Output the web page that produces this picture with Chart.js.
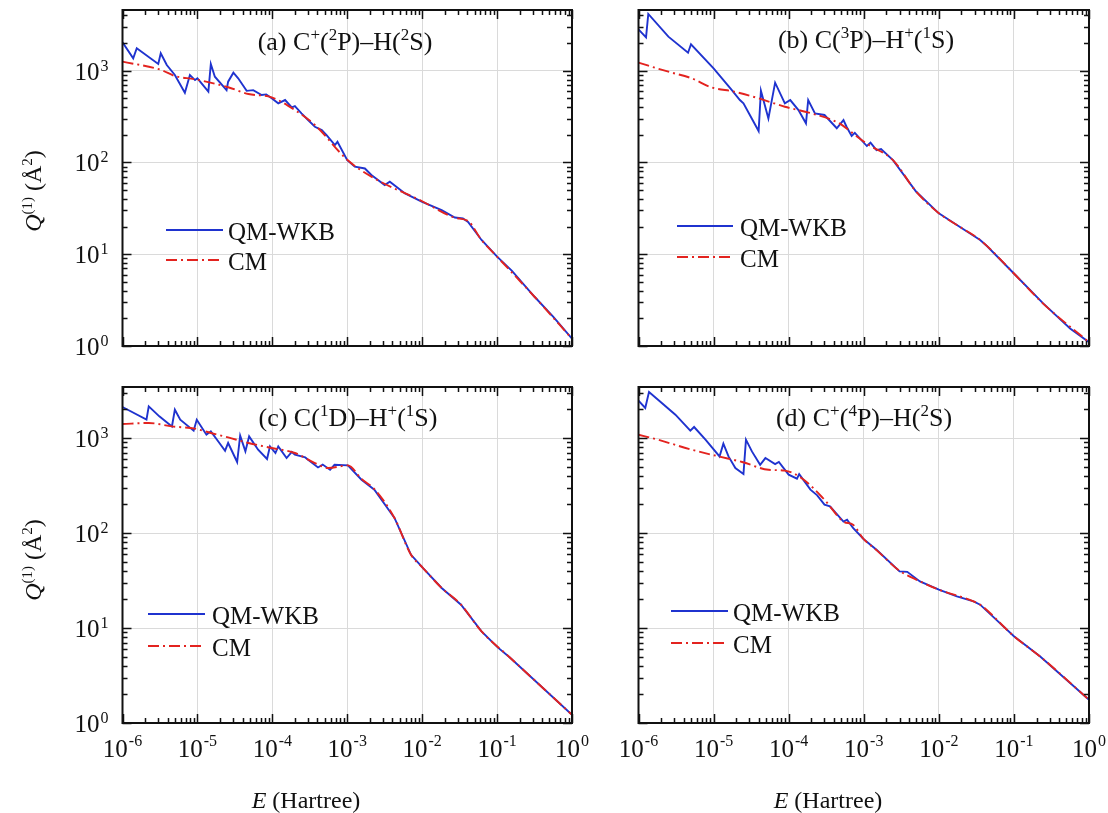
<!DOCTYPE html>
<html><head><meta charset="utf-8">
<script src="https://cdn.jsdelivr.net/npm/chart.js@4.4.0/dist/chart.umd.min.js"></script>
<style>
html,body{margin:0;padding:0;background:#fff;}
#wrap{position:relative;width:1108px;height:813px;overflow:hidden;font-family:"Liberation Serif","Times New Roman",serif;color:#111;}
canvas{position:absolute;left:0;top:0;}
.t{position:absolute;font-size:24px;white-space:nowrap;line-height:1;}
.big{font-size:26px;}
.leg{font-size:25px;}
.c{transform:translate(-50%,-50%);}
.r{transform:translate(-50%,-50%) rotate(-90deg);}
.m{transform:translateY(-50%);}
.sp{font-size:15px;position:relative;top:-9px;}
.big .sp{font-size:17px;top:-10px;}
svg{position:absolute;overflow:visible;}
</style></head>
<body><div id="wrap">
<canvas id="ca" width="1108" height="813"></canvas>
<canvas id="cb" width="1108" height="813"></canvas>
<canvas id="cc" width="1108" height="813"></canvas>
<canvas id="cd" width="1108" height="813"></canvas>
<div id="txt"></div>
</div>
<script>
// ---------- data (E in Hartree, Q in Å^2) ----------
const xTickVals = [1e-6, 1e-5, 1e-4, 1e-3, 1e-2, 1e-1, 1];
const xTickExps = ['-6', '-5', '-4', '-3', '-2', '-1', '0'];
const yTickVals = [1, 10, 100, 1000];
const yTickExps = ['0', '1', '2', '3'];

// (a) C+(2P)-H(2S)
const aQmE = [1e-6,1.39e-6,1.55e-6,3.0e-6,3.24e-6,3.9e-6,5.0e-6,6.8e-6,7.94e-6,9.3e-6,1.0e-5,1.4e-5,1.51e-5,1.71e-5,2.45e-5,2.57e-5,3.02e-5,3.5e-5,4.54e-5,5.56e-5,7.2e-5,8.3e-5,9.8e-5,1.2e-4,1.48e-4,1.82e-4,2.0e-4,2.45e-4,3.0e-4,3.7e-4,4.57e-4,5.3e-4,6.84e-4,7.4e-4,1.0e-3,1.26e-3,1.72e-3,2.1e-3,3.16e-3,3.7e-3,5.9e-3,1.0e-2,1.82e-2,2.73e-2,3.5e-2,4.1e-2,6.2e-2,0.1,0.158,0.316,0.56,1];
const aQmQ = [2040,1365,1755,1183,1550,1154,898,575,898,790,826,591,1183,860,614,759,951,826,603,614,543,552,500,441,479,399,412,343,290,245,225,199,155,168,106,90,86,73,56.7,61.7,46,37.3,30.2,25.1,24.5,22.5,14.3,9.4,6.6,3.44,2.09,1.2];
const aCmE = [1e-6,3.3e-6,5e-6,9.3e-6,2.57e-5,4.8e-5,9.8e-5,2e-4,3.7e-4,1e-3,2.1e-3,1e-2,2.73e-2,4.1e-2,6.2e-2,0.1,0.316,1];
const aCmQ = [1254,1018,875,806,660,557,513,372,256,107,70,37.8,25,23,14.3,9.4,3.44,1.2];

// (b) C(3P)-H+(1S)
const bQmE = [1e-6,1.26e-6,1.35e-6,2.5e-6,4.57e-6,5.0e-6,1e-5,1.74e-5,2.24e-5,2.5e-5,3.98e-5,4.27e-5,5.37e-5,6.6e-5,8.9e-5,1.05e-4,1.35e-4,1.7e-4,1.82e-4,2.24e-4,3.0e-4,4.37e-4,5.37e-4,5.9e-4,6.9e-4,7.6e-4,1.1e-3,1.23e-3,1.48e-3,1.7e-3,2.45e-3,5.0e-3,1e-2,1.74e-2,3.55e-2,4.37e-2,0.1,0.245,0.56,1];
const bQmQ = [2825,2312,4150,2350,1570,1940,1062,617,479,441,220,605,302,740,441,479,372,267,479,343,329,236,290,245,194,210,151,164,136,140,106,47.9,27.9,20.8,14.3,12.3,6.17,2.91,1.55,1.1];
const bCmE = [1e-6,2.5e-6,5.1e-6,9.3e-6,1.9e-5,3.98e-5,8.9e-5,2e-4,4.57e-4,7.2e-4,1.1e-3,2.45e-3,5e-3,1e-2,1.74e-2,3.55e-2,0.1,0.245,1];
const bCmQ = [1222,975,826,660,590,500,405,343,271,207,160,106,48,28,20.8,14.3,6.17,2.9,1.1];

// (c) C(1D)-H+(1S)
const cQmE = [1e-6,2.09e-6,2.24e-6,3.1e-6,4.57e-6,5e-6,5.9e-6,8.9e-6,9.8e-6,1.32e-5,1.51e-5,1.9e-5,2.34e-5,2.57e-5,3.39e-5,3.72e-5,4.37e-5,4.9e-5,6.46e-5,8.5e-5,9.3e-5,1.1e-4,1.2e-4,1.55e-4,1.82e-4,2e-4,2.75e-4,3e-4,4.07e-4,4.7e-4,5.9e-4,6.76e-4,1.02e-3,1.55e-3,2.3e-3,4.27e-3,7.1e-3,1.02e-2,1.82e-2,3.3e-2,6.2e-2,0.102,0.148,1];
const cQmQ = [2120,1560,2150,1690,1325,1987,1560,1194,1560,1083,1175,920,735,886,559,1058,723,1040,753,601,816,695,816,615,713,667,625,592,490,525,463,523,515,364,286,144,59,42.9,26.4,17.6,9.2,6.25,4.9,1.22];
const cCmE = [1e-6,2.24e-6,4.57e-6,9.3e-6,1.51e-5,2.57e-5,4.8e-5,9.8e-5,2e-4,3.7e-4,5.6e-4,1.02e-3,1.55e-3,2.3e-3,4.27e-3,7.1e-3,1.02e-2,1.82e-2,3.3e-2,6.2e-2,0.148,1];
const cCmQ = [1404,1440,1325,1254,1129,1014,886,785,695,545,483,515,370,290,144,59,43,26.4,17.6,9.2,4.9,1.22];

// (d) C+(4P)-H(2S)
const dQmE = [1e-6,1.23e-6,1.38e-6,1.82e-6,3.1e-6,4.9e-6,5.5e-6,7.8e-6,1.2e-5,1.35e-5,1.58e-5,1.95e-5,2.5e-5,2.7e-5,3.24e-5,4.17e-5,4.9e-5,6.6e-5,7.4e-5,1e-4,1.29e-4,1.38e-4,1.95e-4,2.4e-4,3e-4,3.55e-4,5.37e-4,6e-4,7.2e-4,1e-3,1.48e-3,3e-3,3.8e-3,5.6e-3,1e-2,1.74e-2,2.9e-2,3.55e-2,0.1,0.224,0.56,1];
const dQmQ = [2470,2070,3050,2530,1760,1194,1306,960,640,871,640,483,418,960,723,523,615,532,560,411,373,417,286,249,199,191,132,138,113,86,66.7,39.5,39,30.9,25.3,21.5,19.1,17.6,8.2,5.0,2.64,1.76];
const dCmE = [1e-6,1.82e-6,5.1e-6,1.17e-5,2.4e-5,5.4e-5,8.9e-5,1.48e-4,3e-4,5.37e-4,7.2e-4,1e-3,1.48e-3,3e-3,5.6e-3,1e-2,2.9e-2,3.55e-2,0.1,0.224,1];
const dCmQ = [1083,960,753,640,559,463,453,380,224,132,122,86,66,40,31,25.3,19.1,17.6,8.2,5.0,1.76];

// ---------- styling ----------
const BLUE = '#1f33cf';
const RED = '#e3231f';
const FONT = '"Liberation Serif","Times New Roman",serif';

function framePlugin(showX, showY) {
  return {
    id: 'frame',
    afterDraw(chart) {
      const ctx = chart.ctx, ca = chart.chartArea;
      const xs = chart.scales.x, ys = chart.scales.y;
      ctx.save();
      ctx.strokeStyle = '#111';
      ctx.lineWidth = 1.5;
      ctx.beginPath();
      for (let d = -6; d <= 0; d++) {
        for (let m = 1; m < 10; m++) {
          const v = m * Math.pow(10, d);
          if (v > 1.0000001) break;
          const px = Math.round(xs.getPixelForValue(v)) + 0.5;
          const len = m === 1 ? 9 : 5;
          ctx.moveTo(px, ca.bottom); ctx.lineTo(px, ca.bottom - len);
          ctx.moveTo(px, ca.top); ctx.lineTo(px, ca.top + len);
        }
      }
      for (let d = 0; d <= 3; d++) {
        for (let m = 1; m < 10; m++) {
          const v = m * Math.pow(10, d);
          if (v > ys.max) break;
          const py = Math.round(ys.getPixelForValue(v)) + 0.5;
          const len = m === 1 ? 9 : 5;
          ctx.moveTo(ca.left, py); ctx.lineTo(ca.left + len, py);
          ctx.moveTo(ca.right, py); ctx.lineTo(ca.right - len, py);
        }
      }
      ctx.stroke();
      ctx.lineWidth = 2;
      ctx.strokeRect(ca.left, ca.top, ca.right - ca.left, ca.bottom - ca.top);
      ctx.fillStyle = '#111';
      ctx.textBaseline = 'alphabetic';
      ctx.textAlign = 'left';
      if (showX) {
        xTickVals.forEach((v, i) => {
          const px = xs.getPixelForValue(v);
          ctx.font = '25px ' + FONT; const w1 = ctx.measureText('10').width;
          ctx.font = '16px ' + FONT; const w2 = ctx.measureText(xTickExps[i]).width;
          const x0 = px - (w1 + w2 + 1) / 2;
          ctx.font = '25px ' + FONT; ctx.fillText('10', x0, ca.bottom + 34);
          ctx.font = '16px ' + FONT; ctx.fillText(xTickExps[i], x0 + w1 + 1, ca.bottom + 23);
        });
      }
      if (showY) {
        yTickVals.forEach((v, i) => {
          const py = ys.getPixelForValue(v);
          ctx.font = '25px ' + FONT; const w1 = ctx.measureText('10').width;
          ctx.font = '16px ' + FONT; const w2 = ctx.measureText(yTickExps[i]).width;
          const x0 = ca.left - 14 - (w1 + w2 + 1);
          ctx.font = '25px ' + FONT; ctx.fillText('10', x0, py + 9);
          ctx.font = '16px ' + FONT; ctx.fillText(yTickExps[i], x0 + w1 + 1, py);
        });
      }
      ctx.restore();
    }
  };
}

function pts(E, Q) { return E.map((e, i) => ({ x: e, y: Q[i] })); }

function makePanel(id, qmE, qmQ, cmE, cmQ, area, yMax, showX, showY) {
  new Chart(document.getElementById(id), {
    type: 'scatter',
    data: {
      datasets: [
        { label: 'QM-WKB', data: pts(qmE, qmQ), showLine: true, borderColor: BLUE, borderWidth: 1.9,
          pointRadius: 0, tension: 0, order: 2 },
        { label: 'CM', data: pts(cmE, cmQ), showLine: true, borderColor: RED, borderWidth: 1.9,
          borderDash: [11, 4, 2, 4], pointRadius: 0, cubicInterpolationMode: 'monotone', order: 1 }
      ]
    },
    options: {
      responsive: false, animation: false, devicePixelRatio: 1, events: [],
      layout: { padding: { left: area.l, top: area.t, right: 1108 - area.r, bottom: 813 - area.b } },
      plugins: { legend: { display: false }, tooltip: { enabled: false } },
      scales: {
        x: {
          type: 'logarithmic', min: 1e-6, max: 1,
          ticks: { display: false }, border: { display: false },
          grid: { color: '#dadada', lineWidth: 1, drawTicks: false },
          afterBuildTicks: s => { s.ticks = xTickVals.map(v => ({ value: v })); },
          afterFit: s => { s.height = 0; }
        },
        y: {
          type: 'logarithmic', min: 1, max: yMax,
          ticks: { display: false }, border: { display: false },
          grid: { color: '#dadada', lineWidth: 1, drawTicks: false },
          afterBuildTicks: s => { s.ticks = yTickVals.map(v => ({ value: v })); },
          afterFit: s => { s.width = 0; }
        }
      }
    },
    plugins: [framePlugin(showX, showY)]
  });
}

makePanel('ca', aQmE, aQmQ, aCmE, aCmQ, { l: 122.5, t: 10, r: 572, b: 346 }, 4585, false, true);
makePanel('cb', bQmE, bQmQ, bCmE, bCmQ, { l: 638.5, t: 10, r: 1089, b: 346 }, 4585, false, false);
makePanel('cc', cQmE, cQmQ, cCmE, cCmQ, { l: 122.5, t: 387, r: 572, b: 723 }, 3443, true, true);
makePanel('cd', dQmE, dQmQ, dCmE, dCmQ, { l: 638.5, t: 387, r: 1089, b: 723 }, 3443, true, false);

// ---------- text overlays ----------
const txt = document.getElementById('txt');
function add(html, x, y, cls) {
  const d = document.createElement('div');
  d.className = 't ' + cls; d.style.left = x + 'px'; d.style.top = y + 'px'; d.innerHTML = html;
  txt.appendChild(d);
}
const S = s => '<span class="sp">' + s + '</span>';
add('(a) C' + S('+') + '(' + S('2') + 'P)–H(' + S('2') + 'S)', 345, 42, 'c big');
add('(b) C(' + S('3') + 'P)–H' + S('+') + '(' + S('1') + 'S)', 866, 40, 'c big');
add('(c) C(' + S('1') + 'D)–H' + S('+') + '(' + S('1') + 'S)', 348, 418, 'c big');
add('(d) C' + S('+') + '(' + S('4') + 'P)–H(' + S('2') + 'S)', 864, 418, 'c big');
const QT = '<i>Q</i>' + S('(1)') + ' (Å' + S('2') + ')';
add(QT, 33, 191, 'r');
add(QT, 33, 560, 'r');
add('<i>E</i> (Hartree)', 306, 800, 'c');
add('<i>E</i> (Hartree)', 828, 800, 'c');

function legend(x1, x2, tx, y1, y2) {
  const w = x2 - x1;
  txt.insertAdjacentHTML('beforeend',
    '<svg style="left:' + x1 + 'px;top:' + (y1 - 5) + 'px" width="' + w + '" height="10"><line x1="0" y1="5" x2="' + w + '" y2="5" stroke="' + BLUE + '" stroke-width="1.9"/></svg>' +
    '<svg style="left:' + x1 + 'px;top:' + (y2 - 5) + 'px" width="' + w + '" height="10"><line x1="0" y1="5" x2="' + w + '" y2="5" stroke="' + RED + '" stroke-width="1.9" stroke-dasharray="11 4 2 4"/></svg>');
  add('QM-WKB', tx, y1 + 1, 'm leg');
  add('CM', tx, y2 + 1, 'm leg');
}
legend(166, 223, 228, 230, 260);
legend(677, 733, 740, 226, 257);
legend(148, 205, 212, 614, 646);
legend(671, 728, 733, 611, 643);
</script>
</body></html>
